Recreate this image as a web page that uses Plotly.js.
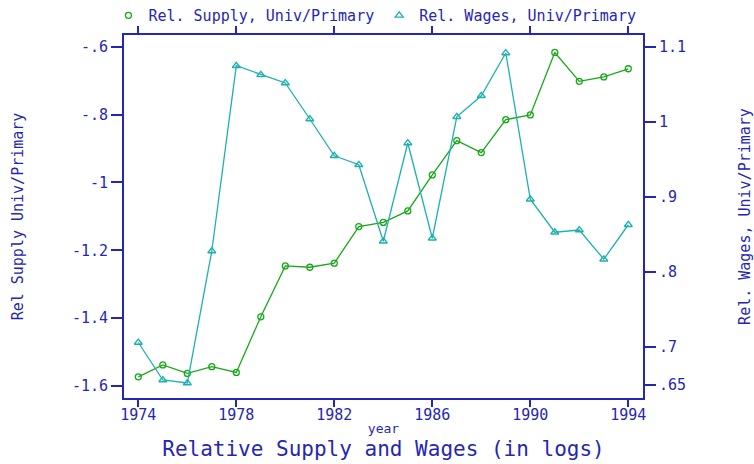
<!DOCTYPE html>
<html><head><meta charset="utf-8">
<script src="https://cdn.plot.ly/plotly-3.0.1.min.js"></script>
<style>html,body{margin:0;padding:0;background:#fff}#chart{width:754px;height:464px}</style>
</head><body><div id="chart"></div>
<script>
const years = [1974,1975,1976,1977,1978,1979,1980,1981,1982,1983,1984,1985,1986,1987,1988,1989,1990,1991,1992,1993,1994];
const relSupply = [-1.573,-1.538,-1.563,-1.543,-1.560,-1.396,-1.246,-1.250,-1.238,-1.130,-1.118,-1.084,-0.978,-0.877,-0.912,-0.815,-0.801,-0.617,-0.702,-0.689,-0.665];
const relWages = [0.706,0.656,0.652,0.828,1.075,1.063,1.052,1.004,0.955,0.943,0.841,0.972,0.845,1.007,1.035,1.092,0.897,0.853,0.856,0.817,0.863];
const xTicks = [1974,1978,1982,1986,1990,1994];
const supplyTickVals = [-1.6,-1.4,-1.2,-1,-0.8,-0.6];
const supplyTickText = ["-1.6","-1.4","-1.2","-1","-.8","-.6"];
const wageTickVals = [0.65,0.7,0.8,0.9,1,1.1];
const wageTickText = [".65",".7",".8",".9","1","1.1"];
const supplyName = "Rel. Supply, Univ/Primary";
const wagesName = "Rel. Wages, Univ/Primary";

const BLUE = "#2626b4", GREEN = "#1aa81a", TEAL = "#1eb0b0";
const FONT = "DejaVu Sans Mono";

const traces = [
  {x: years, y: relSupply, mode: "lines+markers", yaxis: "y", showlegend: false,
   line: {color: GREEN, width: 1.3}, marker: {symbol: "circle-open", size: 6, color: GREEN, line: {width: 1.3}}},
  {x: years, y: relWages, mode: "lines+markers", yaxis: "y2", showlegend: false,
   line: {color: TEAL, width: 1.3}, marker: {symbol: "triangle-up-open", size: 7, color: TEAL, line: {width: 1.3}}},
  {x: [null], y: [null], mode: "markers", name: supplyName, yaxis: "y",
   marker: {symbol: "circle-open", size: 6, color: GREEN, line: {width: 1.3}}},
  {x: [null], y: [null], mode: "markers", name: wagesName, yaxis: "y2",
   marker: {symbol: "triangle-up-open", size: 7, color: TEAL, line: {width: 1.3}}}
];

const layout = {
  width: 754, height: 464,
  margin: {l: 124, r: 111, t: 35, b: 66, autoexpand: false},
  paper_bgcolor: "#fff", plot_bgcolor: "#fff",
  font: {family: FONT, color: BLUE, size: 15},
  showlegend: true,
  legend: {orientation: "h", x: -0.03, xanchor: "left", y: 1.008, yanchor: "bottom",
           font: {size: 15, color: BLUE}, traceorder: "normal", bgcolor: "rgba(0,0,0,0)"},
  title: {text: "Relative Supply and Wages (in logs)", font: {size: 21, color: BLUE},
          x: 0.5, xref: "paper", xanchor: "center", yref: "container", y: 15/464, yanchor: "middle"},
  xaxis: {range: [1973.416, 1994.6], tickvals: xTicks, ticktext: xTicks.map(String),
          showline: true, linecolor: BLUE, linewidth: 2, mirror: "ticks",
          ticks: "outside", ticklen: 7, tickwidth: 2, tickcolor: BLUE, ticklabelstandoff: -5,
          showgrid: false, zeroline: false, tickfont: {size: 15},
          title: {text: "year", font: {size: 13}, standoff: 1}},
  yaxis: {range: [-1.6354, -0.5655], tickvals: supplyTickVals, ticktext: supplyTickText,
          showline: true, linecolor: BLUE, linewidth: 2,
          ticks: "outside", ticklen: 11, tickwidth: 2, tickcolor: BLUE,
          showgrid: false, zeroline: false, tickfont: {size: 15},
          title: {text: "Rel Supply Univ/Primary", font: {size: 15}, standoff: 45}},
  yaxis2: {range: [0.632, 1.116], overlaying: "y", side: "right", tickvals: wageTickVals, ticktext: wageTickText,
          showline: true, linecolor: BLUE, linewidth: 2,
          ticks: "outside", ticklen: 11, tickwidth: 2, tickcolor: BLUE,
          showgrid: false, zeroline: false, tickfont: {size: 15},
          title: {text: "Rel. Wages, Univ/Primary", font: {size: 15}, standoff: 54}}
};

Plotly.newPlot("chart", traces, layout, {displayModeBar: false, staticPlot: true});
</script>
</body></html>
